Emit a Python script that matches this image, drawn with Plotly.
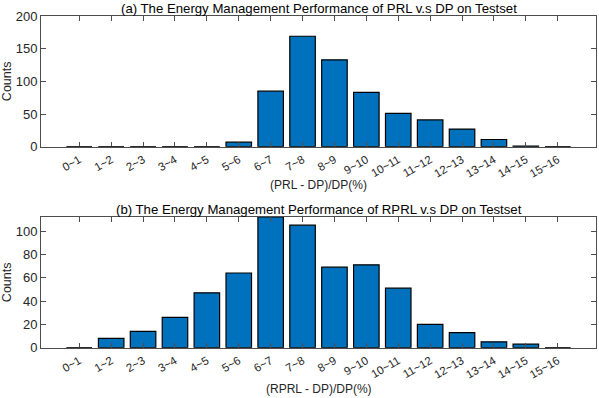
import plotly.graph_objects as go

categories = ["0~1", "1~2", "2~3", "3~4", "4~5", "5~6", "6~7", "7~8",
              "8~9", "9~10", "10~11", "11~12", "12~13", "13~14", "14~15", "15~16"]
prl_counts = [0, 0, 0, 0, 0, 7, 85, 169, 133, 83, 51, 41, 27, 11, 1, 0]
rprl_counts = [0, 8, 14, 26, 47, 64, 112, 105, 69, 71, 51, 20, 13, 5, 3, 0]

title_a = "(a) The Energy Management Performance of PRL v.s DP on Testset"
title_b = "(b) The Energy Management Performance of RPRL v.s DP on Testset"
xlabel_a = "(PRL - DP)/DP(%)"
xlabel_b = "(RPRL - DP)/DP(%)"
ylabel = "Counts"
yticks_a = [0, 50, 100, 150, 200]
yticks_b = [0, 20, 40, 60, 80, 100]

BAR = "#0072BD"
AX = "#4d4d4d"
FONT = "Liberation Sans, Arial, Helvetica, sans-serif"
W, H = 599, 398
x0p, x1p = 41 / W, 596 / W

fig = go.Figure()
fig.add_trace(go.Bar(x=categories, y=prl_counts, marker=dict(color=BAR, line=dict(color="black", width=1.2)),
                     width=0.8, xaxis="x", yaxis="y", showlegend=False))
fig.add_trace(go.Bar(x=categories, y=rprl_counts, marker=dict(color=BAR, line=dict(color="black", width=1.2)),
                     width=0.8, xaxis="x2", yaxis="y2", showlegend=False))

shapes = []
for xr, yr, vals in (("x", "y", prl_counts), ("x2", "y2", rprl_counts)):
    for i, v in enumerate(vals):
        if v == 0:
            shapes.append(dict(type="line", xref=xr, yref=yr, x0=i - 0.4, x1=i + 0.4, y0=0, y1=0,
                               line=dict(color="#262626", width=1.5), layer="above"))

common_x = dict(type="category", categoryorder="array", categoryarray=categories,
                range=[-1.2, 16.2], ticks="inside", ticklen=5, tickcolor=AX, tickwidth=1,
                showline=True, linecolor=AX, linewidth=1, mirror="ticks", tickangle=-30,
                ticklabelstandoff=1,
                tickfont=dict(family=FONT, size=11.5, color="#262626"), showgrid=False, zeroline=False,
                domain=[x0p, x1p], automargin=False)
common_y = dict(ticks="inside", ticklen=5, tickcolor=AX, tickwidth=1, showline=True, linecolor=AX,
                linewidth=1, mirror="ticks", tickfont=dict(family=FONT, size=13, color="#262626"),
                showgrid=False, zeroline=False, automargin=False)


def text_ann(text, ypix, size, color="#262626", yanchor="middle"):
    return dict(text=text, xref="paper", yref="paper", x=(x0p + x1p) / 2, y=(H - ypix) / H,
                xanchor="center", yanchor=yanchor, showarrow=False,
                font=dict(family=FONT, size=size, color=color))


fig.update_layout(
    width=W, height=H, margin=dict(l=0, r=0, t=0, b=0, pad=0),
    paper_bgcolor="white", plot_bgcolor="white", bargap=0.2,
    font=dict(family=FONT, color="#262626"),
    xaxis=dict(**common_x, anchor="y"),
    yaxis=dict(**common_y, anchor="x", domain=[(H - 146.7) / H, (H - 16) / H], range=[0, 200],
               tickvals=yticks_a, title=dict(text=ylabel, font=dict(family=FONT, size=12.5), standoff=4)),
    xaxis2=dict(**common_x, anchor="y2"),
    yaxis2=dict(**common_y, anchor="x2", domain=[(H - 347.7) / H, (H - 217) / H], range=[0, 112],
                tickvals=yticks_b, title=dict(text=ylabel, font=dict(family=FONT, size=12.5), standoff=4)),
    shapes=shapes,
    annotations=[
        text_ann(title_a, 8.5, 13.2, "black"),
        text_ann(title_b, 209.5, 13.2, "black"),
        text_ann(xlabel_a, 185, 12),
        text_ann(xlabel_b, 389, 12),
    ],
)

fig.write_html("out.html", config={"displayModeBar": False},
               post_script="document.body.style.margin='0';document.body.style.overflow='hidden';")
